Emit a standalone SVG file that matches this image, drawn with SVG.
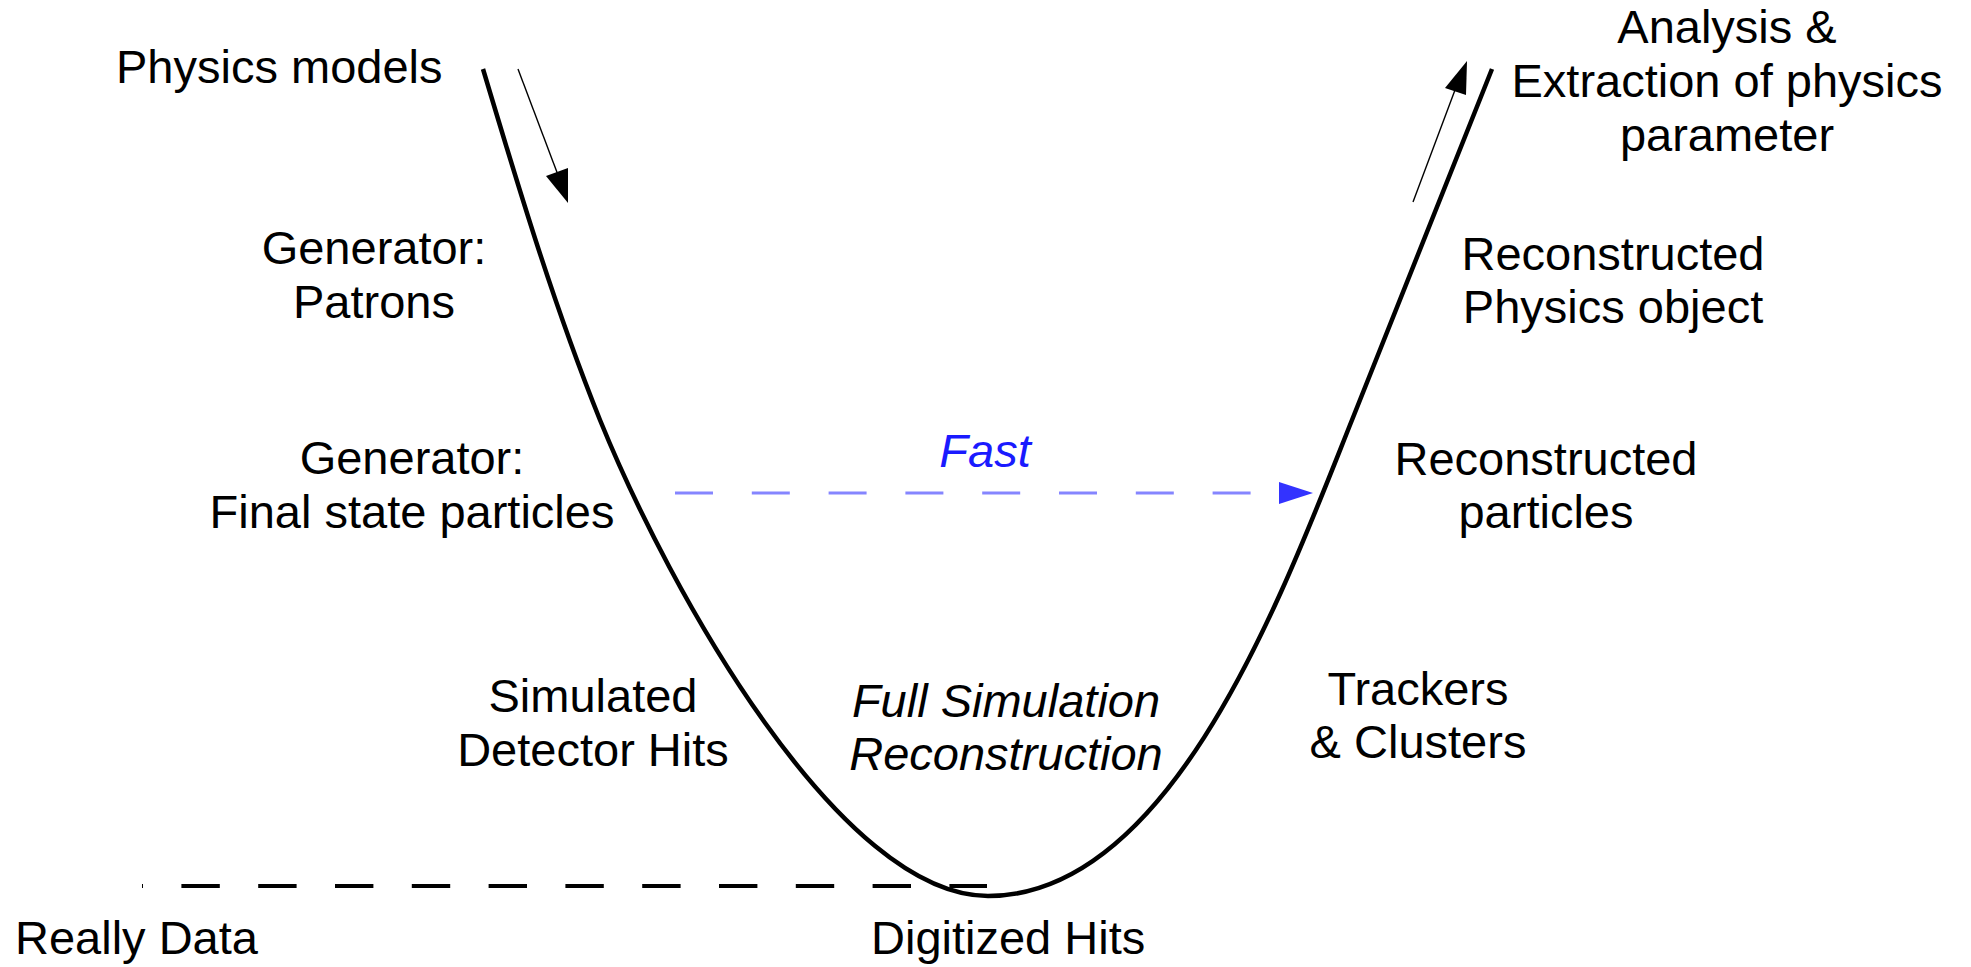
<svg xmlns="http://www.w3.org/2000/svg" width="1971" height="967" viewBox="0 0 1971 967">
  <style>
    .lbl { font-family: "Liberation Sans", Arial, sans-serif; font-size: 47px; fill: #000; text-anchor: middle; }
    .start { text-anchor: start; }
    .it { font-style: italic; }
    .fast { fill: #1a1aff; }
    .curve { fill: none; stroke: #000; stroke-width: 4.5; stroke-linecap: butt; }
    .thin { fill: none; stroke: #000; stroke-width: 1.4; }
    .base { fill: none; stroke: #000; stroke-width: 4; stroke-dasharray: 38.4 38.4; stroke-dashoffset: 37.4; }
    .shortcut { fill: none; stroke: #8585ff; stroke-width: 3; stroke-dasharray: 38 38.8; }
  </style>
  <rect width="1971" height="967" fill="#fff"/>

  <g id="connectors">
    <!-- V-shaped processing chain: generation down the left arm, reconstruction up the right -->
    <path class="curve" d="M483,69 C518,186 553,303 600,420 C670,592 840,896 988,896 C1173,896 1284,590 1352,420 C1398,303 1445,186 1492,69"/>
    <!-- Reference level for real data -->
    <line class="base" x1="142" y1="886" x2="987" y2="886"/>
    <!-- Downward direction arrow -->
    <line class="thin" x1="518" y1="69" x2="558" y2="175"/>
    <polygon points="546,176 568,168 568,203" fill="#000"/>
    <!-- Upward direction arrow -->
    <line class="thin" x1="1413" y1="202" x2="1455" y2="90"/>
    <polygon points="1445,88 1466,95 1467,61" fill="#000"/>
    <!-- Fast shortcut -->
    <line class="shortcut" x1="675" y1="493" x2="1279" y2="493"/>
    <polygon points="1279,482 1313,493 1279,504" fill="#3333ff"/>
  </g>

  <g id="physics-models">
    <text class="lbl start" x="116" y="83">Physics models</text>
  </g>
  <g id="generator-patrons">
    <text class="lbl" x="374" y="264">Generator:</text>
    <text class="lbl" x="374" y="318">Patrons</text>
  </g>
  <g id="generator-final">
    <text class="lbl" x="412" y="474">Generator:</text>
    <text class="lbl" x="412" y="528">Final state particles</text>
  </g>
  <g id="simulated-hits">
    <text class="lbl" x="593" y="712">Simulated</text>
    <text class="lbl" x="593" y="766">Detector Hits</text>
  </g>
  <g id="full-simulation">
    <text class="lbl it" x="1006" y="717">Full Simulation</text>
    <text class="lbl it" x="1006" y="770">Reconstruction</text>
  </g>
  <g id="really-data">
    <text class="lbl start" x="15" y="954">Really Data</text>
  </g>
  <g id="digitized-hits">
    <text class="lbl start" x="871" y="954">Digitized Hits</text>
  </g>
  <g id="trackers-clusters">
    <text class="lbl" x="1418" y="705">Trackers</text>
    <text class="lbl" x="1418" y="758">&amp; Clusters</text>
  </g>
  <g id="reco-particles">
    <text class="lbl" x="1546" y="475">Reconstructed</text>
    <text class="lbl" x="1546" y="528">particles</text>
  </g>
  <g id="reco-physics-object">
    <text class="lbl" x="1613" y="270">Reconstructed</text>
    <text class="lbl" x="1613" y="323">Physics object</text>
  </g>
  <g id="analysis">
    <text class="lbl" x="1727" y="43">Analysis &amp;</text>
    <text class="lbl" x="1727" y="97">Extraction of physics</text>
    <text class="lbl" x="1727" y="151">parameter</text>
  </g>
  <g id="fast">
    <text class="lbl it fast" x="985" y="467">Fast</text>
  </g>
</svg>
